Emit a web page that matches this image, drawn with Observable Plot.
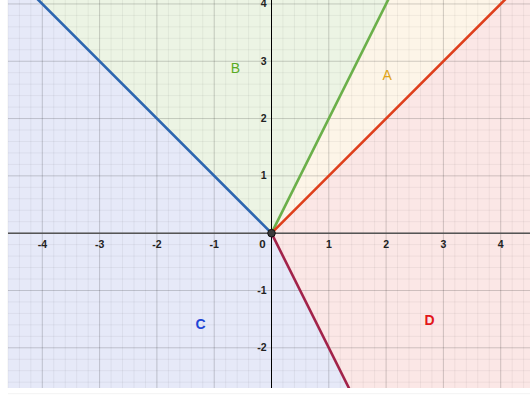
<!DOCTYPE html>
<html>
<head>
<meta charset="utf-8">
<script src="https://cdn.jsdelivr.net/npm/d3@7"></script>
<script src="https://cdn.jsdelivr.net/npm/@observablehq/plot@0.6"></script>
<style>
  html, body { margin: 0; padding: 0; background: white; overflow: hidden; }
</style>
</head>
<body>
<div id="chart"></div>
<script>
// Rays from the origin (x, y endpoints)
const blueRay    = [{x: 0, y: 0}, {x: -6, y: 6}];   // y = -x
const greenRay   = [{x: 0, y: 0}, {x: 3, y: 6}];    // y = 2x
const orangeRay  = [{x: 0, y: 0}, {x: 6, y: 6}];    // y = x
const crimsonRay = [{x: 0, y: 0}, {x: 2, y: -4}];   // y = -2x

// Regions (polygons bounded by the rays)
const regionA = [{x: 0, y: 0}, {x: 3, y: 6}, {x: 6, y: 6}];
const regionB = [{x: 0, y: 0}, {x: -6, y: 6}, {x: 3, y: 6}];
const regionC = [{x: 0, y: 0}, {x: -6, y: 6}, {x: -6, y: -4}, {x: 2, y: -4}];
const regionD = [{x: 0, y: 0}, {x: 6, y: 6}, {x: 6, y: -4}, {x: 2, y: -4}];

// Region labels
const regionLabels = [
  {label: "A", x: 2.02, y: 2.75, color: "#e0a416", bold: false},
  {label: "B", x: -0.63, y: 2.87, color: "#5aab23", bold: false},
  {label: "C", x: -1.24, y: -1.59, color: "#1f45d6", bold: true},
  {label: "D", x: 2.76, y: -1.53, color: "#e3161a", bold: true}
];

// Tick labels
const xTicks = [-4, -3, -2, -1, 1, 2, 3, 4];
const yTicks = [-2, -1, 1, 2, 3, 4];
const majorX = [-4, -3, -2, -1, 0, 1, 2, 3, 4];
const majorY = [-2, -1, 0, 1, 2, 3, 4];
const minorX = d3.range(-23, 23).map(i => i / 5).filter(v => Math.abs(v - Math.round(v)) > 1e-9);
const minorY = d3.range(-14, 21).map(i => i / 5).filter(v => Math.abs(v - Math.round(v)) > 1e-9);

const fontFamily = "Liberation Sans, Arial, Helvetica, sans-serif";

const chart = Plot.plot({
  width: 530,
  height: 396,
  marginLeft: 8,
  marginRight: 0,
  marginTop: 0,
  marginBottom: 8,
  x: {domain: [-4.59, 4.52], axis: null},
  y: {domain: [-2.71, 4.06], axis: null},
  style: {background: "white", fontFamily},
  marks: [
    Plot.line(regionC, {x: "x", y: "y", fill: "#e6e9f8", stroke: "none", clip: true}),
    Plot.line(regionB, {x: "x", y: "y", fill: "#ecf4e4", stroke: "none", clip: true}),
    Plot.line(regionA, {x: "x", y: "y", fill: "#fdf5e8", stroke: "none", clip: true}),
    Plot.line(regionD, {x: "x", y: "y", fill: "#fbe7e6", stroke: "none", clip: true}),
    Plot.ruleX(minorX, {stroke: "#000", strokeOpacity: 0.05, strokeWidth: 1}),
    Plot.ruleY(minorY, {stroke: "#000", strokeOpacity: 0.05, strokeWidth: 1}),
    Plot.ruleX(majorX, {stroke: "#000", strokeOpacity: 0.18, strokeWidth: 1}),
    Plot.ruleY(majorY, {stroke: "#000", strokeOpacity: 0.18, strokeWidth: 1}),
    Plot.ruleY([0], {stroke: "#555", strokeWidth: 1.5}),
    Plot.ruleX([0], {stroke: "#000", strokeWidth: 1}),
    Plot.line(blueRay, {x: "x", y: "y", stroke: "#2d66b0", strokeWidth: 2.6, clip: true}),
    Plot.line(greenRay, {x: "x", y: "y", stroke: "#6bb04a", strokeWidth: 2.6, clip: true}),
    Plot.line(orangeRay, {x: "x", y: "y", stroke: "#de3f1c", strokeWidth: 2.6, clip: true}),
    Plot.line(crimsonRay, {x: "x", y: "y", stroke: "#a2234a", strokeWidth: 2.6, clip: true}),
    Plot.dot([{x: 0, y: 0}], {x: "x", y: "y", r: 3.8, fill: "#3a3a3a", stroke: "#111", strokeWidth: 1}),
    Plot.text(xTicks, {x: d => d, y: 0, dy: 11, text: d => String(d), fontSize: 10.5, fontWeight: "bold", fill: "#222"}),
    Plot.text([0], {x: 0, y: 0, dx: -9, dy: 11, text: d => "0", fontSize: 11.5, fontWeight: "bold", fill: "#222"}),
    Plot.text(yTicks, {x: 0, y: d => d, dx: -5, textAnchor: "end", text: d => String(d), fontSize: 10.5, fontWeight: "bold", fill: "#222"}),
    Plot.text(regionLabels.filter(d => !d.bold), {x: "x", y: "y", text: "label", fill: "color", fontSize: 14, fontWeight: "normal"}),
    Plot.text(regionLabels.filter(d => d.bold), {x: "x", y: "y", text: "label", fill: "color", fontSize: 14, fontWeight: "bold"})
  ]
});

document.getElementById("chart").appendChild(chart);
</script>
</body>
</html>
